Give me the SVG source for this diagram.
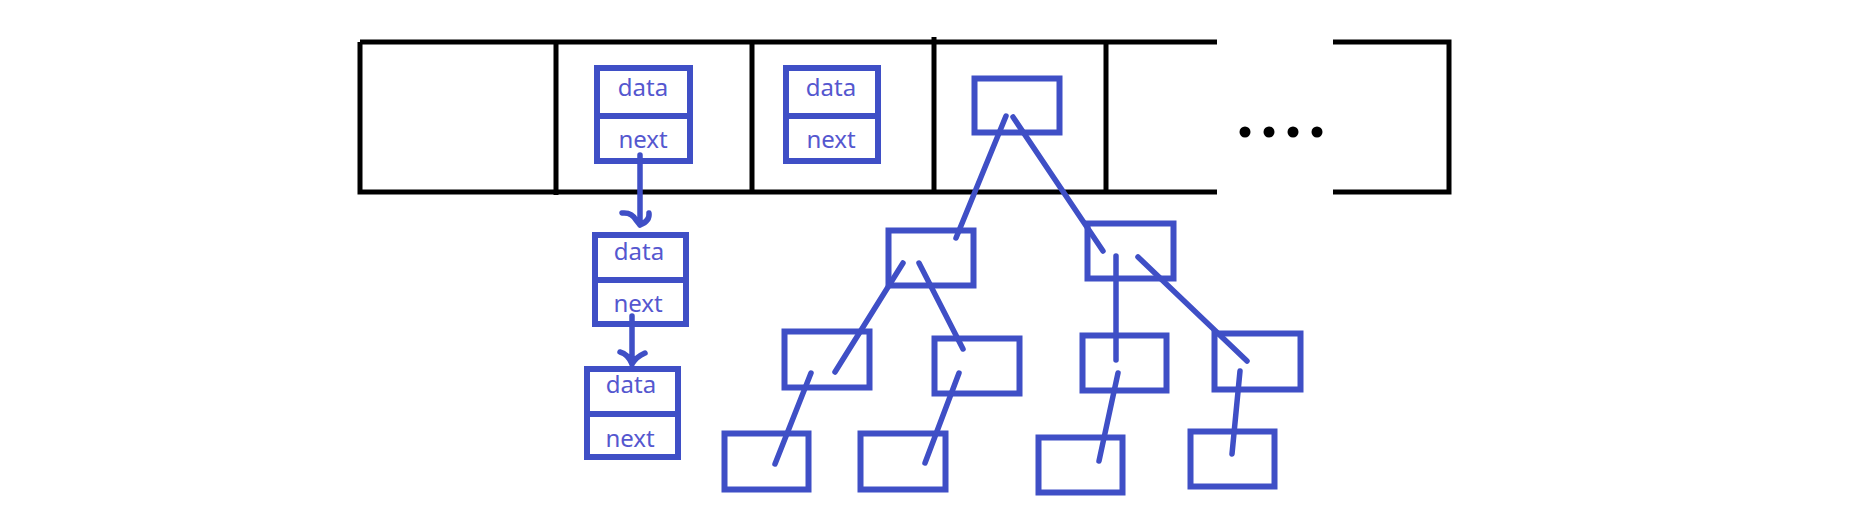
<svg xmlns="http://www.w3.org/2000/svg" width="1856" height="520" viewBox="0 0 1856 520">
<style>
.frame{fill:none;stroke:#000;stroke-width:5}
.box{fill:none;stroke:#3F4FC6;stroke-width:6}
.lnk{stroke:#3F4FC6;stroke-width:5.5;stroke-linecap:round;fill:none}
.t{font-family:"Noto Sans","Open Sans",sans-serif;font-size:24px;fill:#5557CF;text-anchor:middle}
</style>
<rect width="1856" height="520" fill="#fff"/>
<g id="array">
<path class="frame" d="M360,42 H1217 M1333,42 H1449 V192 H1333 M1217,192 H360 V42"/>
<path class="frame" d="M556,42 V195 M752,42 V192 M934,37 V192 M1106,42 V192"/>
<g fill="#000"><circle cx="1245" cy="132" r="5.5"/><circle cx="1269" cy="132" r="5.5"/><circle cx="1293" cy="132" r="5.5"/><circle cx="1317" cy="132" r="5.5"/></g>
</g>
<g id="listA">
<rect class="box" x="597" y="68" width="93" height="93"/>
<line class="box" x1="597" y1="116" x2="690" y2="116"/>
<text class="t" x="643" y="96">data</text>
<text class="t" x="643" y="148">next</text>
</g>
<g id="listB">
<rect class="box" x="786" y="68" width="92" height="93"/>
<line class="box" x1="786" y1="116" x2="878" y2="116"/>
<text class="t" x="831" y="96">data</text>
<text class="t" x="831" y="148">next</text>
</g>
<g id="list2">
<rect class="box" x="595" y="235" width="91" height="89"/>
<line class="box" x1="595" y1="280" x2="686" y2="280"/>
<text class="t" x="639" y="260">data</text>
<text class="t" x="638" y="312">next</text>
</g>
<g id="list3">
<rect class="box" x="587" y="369" width="91" height="88"/>
<line class="box" x1="587" y1="414" x2="678" y2="414"/>
<text class="t" x="631" y="393">data</text>
<text class="t" x="630" y="447">next</text>
</g>
<g id="root"><rect class="box" x="974.5" y="78.5" width="85" height="54"/></g>
<g id="t1l"><rect class="box" x="888.5" y="230.5" width="85" height="55"/></g>
<g id="t1r"><rect class="box" x="1087.5" y="223.5" width="86" height="55"/></g>
<g id="t21"><rect class="box" x="784.5" y="331.5" width="85" height="56"/></g>
<g id="t22"><rect class="box" x="934.5" y="338.5" width="85" height="55"/></g>
<g id="t23"><rect class="box" x="1082.5" y="335.5" width="84" height="55"/></g>
<g id="t24"><rect class="box" x="1214.5" y="333.5" width="86" height="56"/></g>
<g id="t31"><rect class="box" x="724.5" y="433.5" width="84" height="56"/></g>
<g id="t32"><rect class="box" x="860.5" y="433.5" width="85" height="56"/></g>
<g id="t33"><rect class="box" x="1038.5" y="437.5" width="84" height="55"/></g>
<g id="t34"><rect class="box" x="1190.5" y="431.5" width="84" height="55"/></g>
<g id="connectors">
<path class="lnk" d="M640,155 V225 M622,213 Q632,212 636,220 L640,225 M649,213 Q650,221 640,225"/>
<path class="lnk" d="M632,316 V364 M620,352 Q628,354 632,364 M645,353 Q636,357 632,364"/>
<line class="lnk" x1="1006" y1="116" x2="956" y2="238"/>
<line class="lnk" x1="1013" y1="117" x2="1103" y2="251"/>
<line class="lnk" x1="903" y1="263" x2="835" y2="372"/>
<line class="lnk" x1="919" y1="263" x2="963" y2="349"/>
<line class="lnk" x1="1116" y1="256" x2="1116" y2="360"/>
<line class="lnk" x1="1138" y1="257" x2="1247" y2="361"/>
<line class="lnk" x1="811" y1="373" x2="775" y2="464"/>
<line class="lnk" x1="959" y1="373" x2="925" y2="463"/>
<line class="lnk" x1="1118" y1="373" x2="1099" y2="461"/>
<line class="lnk" x1="1240" y1="371" x2="1232" y2="454"/>
</g>
</svg>
